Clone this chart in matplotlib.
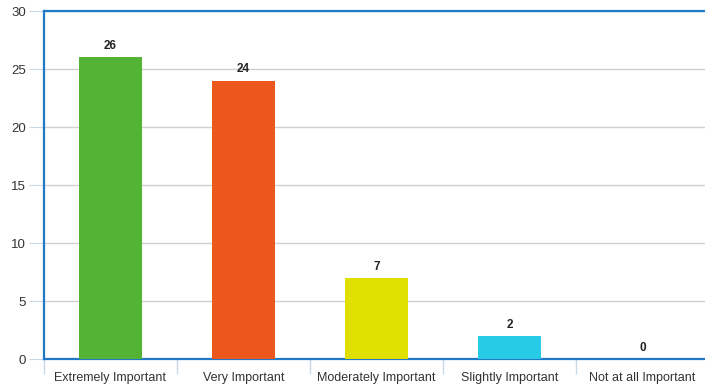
import matplotlib
matplotlib.use("Agg")
import matplotlib.pyplot as plt
import numpy as np

plt.rcParams['font.family'] = ['Liberation Sans', 'DejaVu Sans']

categories = ["Extremely Important", "Very Important", "Moderately Important",
              "Slightly Important", "Not at all Important"]
values = [26, 24, 7, 2, 0]
colors = ["#52b334", "#ec571e", "#e0e000", "#27cbe5", "#27cbe5"]

fig = plt.figure(figsize=(7.05, 3.87), dpi=100)
ax = fig.add_axes([44/705, 28/387, 665/705, 348/387])

x = np.arange(len(categories))
bars = ax.bar(x, values, width=0.48, color=colors, zorder=3)
for xi, v in zip(x, values):
    ax.text(xi, v + 0.45, str(v), ha='center', va='bottom', fontsize=8.5,
            fontweight='bold', color='#222222')

ax.set_xlim(-0.5, len(categories) - 0.5)
ax.set_ylim(0, 30)
ax.set_yticks(np.arange(0, 31, 5))
ax.yaxis.grid(True, color='#d0d0d0', linewidth=1, zorder=0)
ax.tick_params(axis='y', length=11, color='#c8d8e8', labelsize=9.5, labelcolor='#333333', pad=2)

# category labels between boundary ticks
ax.set_xticks(x)
ax.set_xticklabels(categories, fontsize=9, color='#333333')
ax.tick_params(axis='x', length=0, pad=9)
ax.set_xticks(np.arange(-0.5, len(categories), 1), minor=True)
ax.tick_params(axis='x', which='minor', length=11, color='#c8d8e8', width=1)

for side in ['left', 'top', 'bottom']:
    ax.spines[side].set_color('#1f78c8')
    ax.spines[side].set_linewidth(1.6)
ax.spines['right'].set_visible(False)

fig.savefig("out.png", dpi=100)
